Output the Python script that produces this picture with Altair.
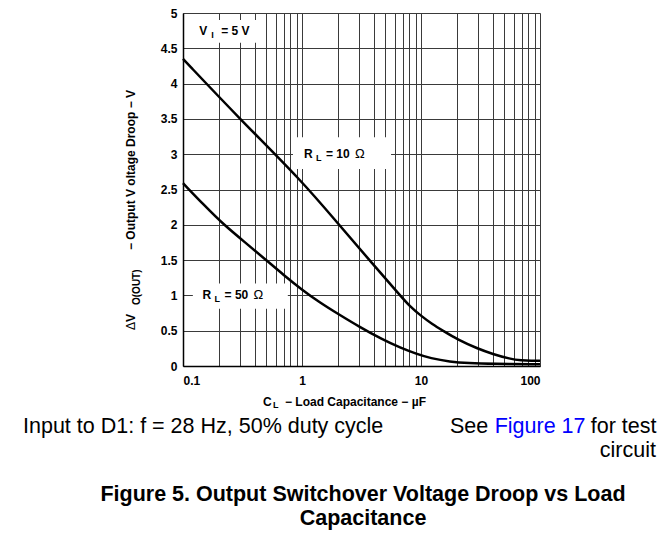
import altair as alt
import pandas as pd

FONT = "Liberation Sans, Arial, Helvetica, sans-serif"

# ---- data ----
c_rl10 = [0.1, 0.3, 1.0, 2.0, 4.0, 6.68, 8.0, 10, 12.5, 15.3, 20, 30, 40, 56, 70, 85, 100]
v_rl10 = [4.35, 3.5, 2.62, 2.02, 1.43, 1.0, 0.85, 0.71, 0.59, 0.5, 0.38, 0.245, 0.17,
          0.1, 0.078, 0.072, 0.075]

c_rl50 = [0.1, 0.15, 0.22, 0.35, 0.5, 0.7, 1.0, 1.41, 2.0, 3.0, 4.8, 6.68, 9.2, 12,
          17.5, 25, 40, 100]
v_rl50 = [2.59, 2.28, 2.0, 1.72, 1.5, 1.29, 1.08, 0.9, 0.74, 0.56, 0.37, 0.26, 0.17,
          0.11, 0.06, 0.04, 0.03, 0.025]

x_grid = [0.1, 0.2, 0.3, 0.4, 0.5, 0.6, 0.7, 0.8, 0.9,
          1, 2, 3, 4, 5, 6, 7, 8, 9,
          10, 20, 30, 40, 50, 60, 70, 80, 90, 100]
x_labeled = [0.1, 1, 10, 100]
y_grid = [0, 0.5, 1, 1.5, 2, 2.5, 3, 3.5, 4, 4.5, 5]

# in-plot labels: anchor (µF, V) and pieces
lab_c = [0.137, 1.04, 0.146]
lab_v = [4.74, 3.0, 1.0]
lab_main = ["V", "R", "R"]
lab_sub = ["I", "L", "L"]
lab_rest = ["= 5 V", "= 10", "= 50"]
lab_omega = ["", "Ω", "Ω"]

# white label backgrounds (µF, V)
box_c1 = [0.121, 0.84, 0.121]
box_c2 = [0.443, 5.6, 0.76]
box_v1 = [4.58, 2.79, 0.81]
box_v2 = [4.90, 3.24, 1.17]

curves = pd.concat([
    pd.DataFrame({"c": c_rl10, "v": v_rl10, "rl": "10"}),
    pd.DataFrame({"c": c_rl50, "v": v_rl50, "rl": "50"}),
])
labels = pd.DataFrame({"c": lab_c, "v": lab_v, "m": lab_main, "s": lab_sub,
                       "r": lab_rest, "o": lab_omega})
boxes = pd.DataFrame({"c": box_c1, "c2": box_c2, "v": box_v1, "v2": box_v2})

W, H = 357, 353
xscale = alt.Scale(type="log", domain=[0.1, 100], nice=False)
yscale = alt.Scale(domain=[0, 5], nice=False, zero=False)

lab_expr = ("indexof([" + ",".join(str(v) for v in x_labeled) +
            "], datum.value) >= 0 ? format(datum.value, '~g') : ''")

AX_X = alt.Axis(values=x_grid, grid=True, ticks=False, labelExpr=lab_expr,
                labelOverlap=False, labelFont=FONT, labelFontSize=12,
                labelFontWeight="bold", labelColor="black", labelPadding=9,
                gridColor="#3a3a3a", gridWidth=1, domainColor="black",
                domainWidth=1.5)
AX_Y = alt.Axis(values=y_grid, grid=True, ticks=False, format="~g",
                labelOverlap=False, labelFont=FONT, labelFontSize=12,
                labelFontWeight="bold", labelColor="black", labelPadding=6,
                gridColor="#3a3a3a", gridWidth=1, domainColor="black",
                domainWidth=1.5)

X = alt.X("c:Q", scale=xscale, title=None, axis=AX_X)
Y = alt.Y("v:Q", scale=yscale, title=None, axis=AX_Y)

rects = alt.Chart(boxes).mark_rect(color="white").encode(
    x=X, x2="c2:Q", y=Y, y2="v2:Q")

lines = alt.Chart(curves).mark_line(color="black", strokeWidth=2.5,
                                    interpolate="basis").encode(
    x=X, y=Y, detail="rl:N")

def lab_layer(field, dx, dy, size, weight):
    return alt.Chart(labels).mark_text(align="left", baseline="middle", dx=dx, dy=dy,
                                       fontSize=size, fontWeight=weight, font=FONT,
                                       color="black").encode(
        x=X, y=Y, text=f"{field}:N")

lab_layers = [
    lab_layer("m", 0, 0, 12, "bold"),
    lab_layer("s", 12, 4, 9, "bold"),
    lab_layer("r", 22, 0, 12, "bold"),
    lab_layer("o", 51, 0, 13, "normal"),
]

def txt(s, px, py, size, weight="bold", color="black", align="left", angle=0):
    return alt.Chart(pd.DataFrame({"t": [s]})).mark_text(
        align=align, baseline="middle", fontSize=size, fontWeight=weight,
        font=FONT, color=color, angle=angle).encode(
        x=alt.value(px), y=alt.value(py), text="t:N")

OX, OY = 183, 13  # plot origin on the page
texts = [
    # y axis title (rotated)
    txt("Δ", 131 - OX, 330 - OY, 12, weight="normal", angle=270),
    txt("V", 131 - OX, 322 - OY, 12, angle=270),
    txt("O(OUT)", 137 - OX, 305 - OY, 10, angle=270),
    txt("− Output V oltage Droop − V", 131 - OX, 250 - OY, 12, angle=270),
    # x axis title
    txt("C", 263 - OX, 402 - OY, 12),
    txt("L", 273 - OX, 405 - OY, 9),
    txt("− Load Capacitance − µF", 285 - OX, 402 - OY, 12),
    # notes
    txt("Input to D1: f = 28 Hz, 50% duty cycle", 23 - OX, 427 - OY, 21.5, weight="normal"),
    txt("See", 450 - OX, 427 - OY, 21.5, weight="normal"),
    txt("Figure 17", 494.7 - OX, 427 - OY, 21.5, weight="normal", color="#0000FF"),
    txt("for test", 590.7 - OX, 427 - OY, 21.5, weight="normal"),
    txt("circuit", 656 - OX, 451 - OY, 21.5, weight="normal", align="right"),
    # figure caption
    txt("Figure 5. Output Switchover Voltage Droop vs Load", 363 - OX, 495 - OY, 21.5,
        align="center"),
    txt("Capacitance", 363 - OX, 519 - OY, 21.5, align="center"),
]

chart = alt.layer(rects, lines, *lab_layers, *texts).properties(
    width=W, height=H,
    autosize=alt.AutoSizeParams(type="none"),
    padding={"left": 175, "top": 5, "right": 121, "bottom": 165},
).configure_view(stroke="black", strokeWidth=1.5).configure(background="white")

chart.save("out.html", embed_options={"renderer": "svg", "actions": False})
